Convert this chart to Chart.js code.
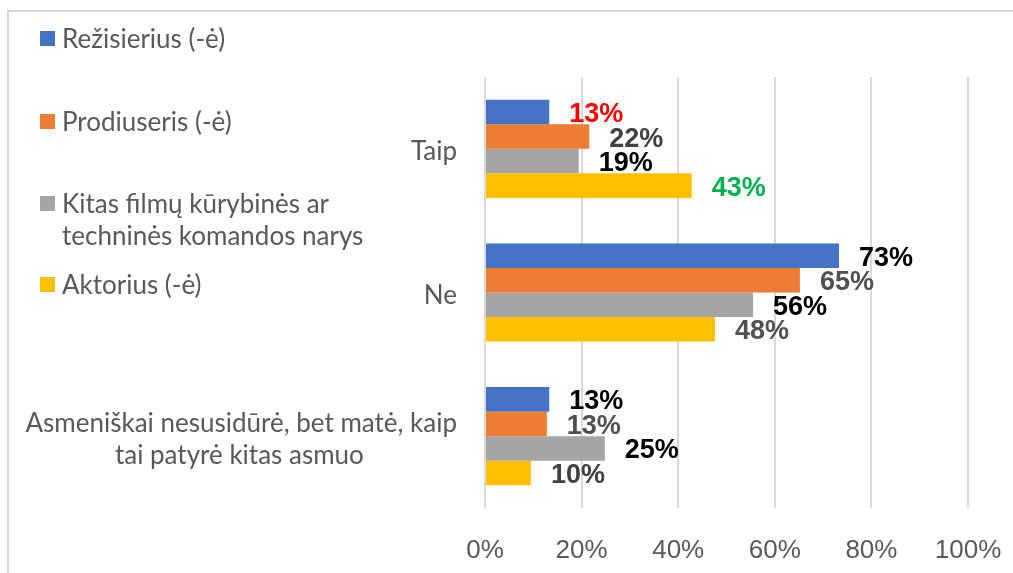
<!DOCTYPE html>
<html><head><meta charset="utf-8">
<script src="https://cdn.jsdelivr.net/npm/chart.js@4.4.0/dist/chart.umd.min.js"></script>
<style>
html,body{margin:0;padding:0;background:#fff;overflow:hidden}
#wrap{position:relative;width:1013px;height:573px}
#frame{position:absolute;left:7px;top:10px;width:1100px;height:700px;border:2px solid #d9d9d9;box-sizing:border-box}
#c{position:absolute;left:0;top:0}
.lg{position:absolute;left:40px;font-family:Lato,"Open Sans",sans-serif;font-size:26px;color:#595959;line-height:32px;white-space:nowrap}
.lg .bx{position:absolute;left:0;width:15px;height:15px;top:9px}
.lg .tx{margin-left:22px}
</style>
</head><body>
<div id="wrap">
<div id="frame"></div>
<canvas id="c" width="1013" height="573"></canvas>
<div id="legend"></div>
</div>
<script>
// ---- data ----
const categories = ['Taip', 'Ne', ['Asmeniškai nesusidūrė, bet matė, kaip', 'tai patyrė kitas asmuo']];
const seriesNames = ['Režisierius (-ė)', 'Prodiuseris (-ė)', ['Kitas filmų kūrybinės ar', 'techninės komandos narys'], 'Aktorius (-ė)'];
const rezisierius = [13.3, 73.3, 13.3];
const prodiuseris = [21.6, 65.2, 12.8];
const kitas = [19.4, 55.5, 24.8];
const aktorius = [42.8, 47.6, 9.5];
const xTicks = [0, 20, 40, 60, 80, 100];

// ---- styles ----
const seriesColors = ['#4472C4', '#ED7D31', '#A5A5A5', '#FFC000'];
const labelColors = [
  ['#FF0000', '#404040', '#000000', '#00B050'],
  ['#000000', '#505050', '#000000', '#505050'],
  ['#000000', '#505050', '#000000', '#404040']
];
const legendTops = [22, 105, 187, 268];
const catFont = 'Lato, "Open Sans", sans-serif';
const catSize = 26;

// legend (HTML overlay)
const lg = document.getElementById('legend');
seriesNames.forEach((name, i) => {
  const d = document.createElement('div');
  d.className = 'lg';
  d.style.top = legendTops[i] + 'px';
  const b = document.createElement('div');
  b.className = 'bx';
  b.style.background = seriesColors[i];
  d.appendChild(b);
  const t = document.createElement('div');
  t.className = 'tx';
  (Array.isArray(name) ? name : [name]).forEach((line, k) => {
    if (k) t.appendChild(document.createElement('br'));
    t.appendChild(document.createTextNode(line));
  });
  d.appendChild(t);
  lg.appendChild(d);
});

// center lines of a multi-line label inside a right-aligned block
const mctx = document.createElement('canvas').getContext('2d');
function centerLines(lines) {
  mctx.font = catSize + 'px ' + catFont;
  const w = lines.map(l => mctx.measureText(l).width);
  const max = Math.max(...w);
  const sp = mctx.measureText('\u00A0').width;
  return lines.map((l, k) => l + '\u00A0'.repeat(Math.round((max - w[k]) / 2 / sp)));
}

const barLabels = {
  id: 'barLabels',
  afterDatasetsDraw(chart) {
    const ctx = chart.ctx;
    ctx.save();
    ctx.font = 'bold 27px "Liberation Sans", Arial, sans-serif';
    ctx.textAlign = 'left';
    ctx.textBaseline = 'middle';
    chart.data.datasets.forEach((ds, di) => {
      const meta = chart.getDatasetMeta(di);
      meta.data.forEach((bar, i) => {
        ctx.fillStyle = labelColors[i][di];
        ctx.fillText(Math.round(ds.data[i]) + '%', bar.x + 20, bar.y + 2.5);
      });
    });
    ctx.restore();
  }
};

const seriesData = [rezisierius, prodiuseris, kitas, aktorius];
new Chart(document.getElementById('c'), {
  type: 'bar',
  data: {
    labels: categories,
    datasets: seriesData.map((d, i) => ({
      label: Array.isArray(seriesNames[i]) ? seriesNames[i].join(' ') : seriesNames[i],
      data: d,
      backgroundColor: seriesColors[i],
      borderWidth: 0,
      barPercentage: 1,
      categoryPercentage: 0.683
    }))
  },
  options: {
    indexAxis: 'y',
    responsive: false,
    animation: false,
    events: [],
    layout: { padding: { top: 77, right: 45, bottom: 7, left: 0 } },
    plugins: { legend: { display: false }, tooltip: { enabled: false } },
    scales: {
      x: {
        min: xTicks[0],
        max: xTicks[xTicks.length - 1],
        afterBuildTicks(scale) { scale.ticks = xTicks.map(v => ({ value: v })); },
        afterFit(scale) { scale.height = 58; scale.paddingRight = 0; scale.paddingLeft = 0; },
        grid: { color: '#d9d9d9', lineWidth: 2, drawTicks: false },
        border: { display: false },
        ticks: {
          padding: 27,
          color: '#595959',
          font: { family: '"Liberation Sans", Arial, sans-serif', size: 26 },
          callback: v => v + '%'
        }
      },
      y: {
        afterFit(scale) { scale.width = 485; scale.paddingTop = 0; scale.paddingBottom = 0; },
        grid: { display: false, drawTicks: false },
        border: { display: false },
        ticks: {
          padding: 28,
          labelOffset: 3,
          color: '#595959',
          autoSkip: false,
          font: { family: catFont, size: catSize, lineHeight: 32 / catSize },
          callback(value) {
            const l = this.getLabelForValue(value);
            return Array.isArray(l) ? centerLines(l) : l;
          }
        }
      }
    }
  },
  plugins: [barLabels]
});
</script>
</body></html>
